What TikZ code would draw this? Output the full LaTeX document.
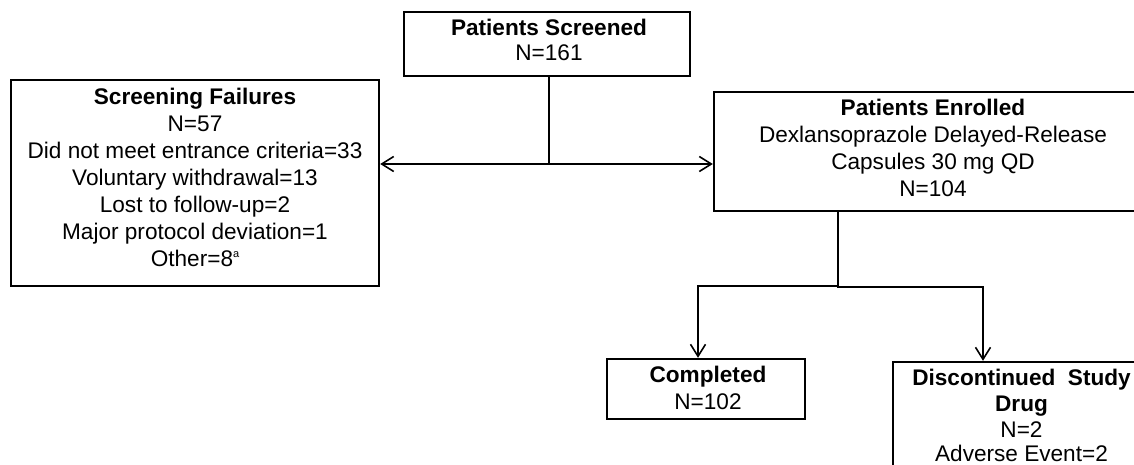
\documentclass[tikz,border=0pt]{standalone}
\usepackage{fontspec}
\setmainfont{Liberation Sans}
\usetikzlibrary{arrows.meta}
\begin{document}
\begin{tikzpicture}[x=1pt,y=-1pt,
  >={Straight Barb[length=12pt,width=15pt,line width=1.6pt]},
  box/.style={draw, line width=2.4pt, inner sep=0pt},
  txt/.style={align=center, inner sep=0pt, anchor=north, font=\fontsize{22.6}{27}\selectfont},
  conn/.style={line width=1.6pt},
  arr/.style={conn, ->}]
\useasboundingbox (0,0) rectangle (1134,465);
\clip (0,0) rectangle (1134,465);
% boxes
\node[box, minimum width=286pt, minimum height=64pt] (scr) at (547,44) {};
\node[box, minimum width=368pt, minimum height=206pt] (fail) at (195,183) {};
\node[box, minimum width=438pt, minimum height=119pt] (enr) at (933,151.5) {};
\node[box, minimum width=198pt, minimum height=60pt] (comp) at (706,389) {};
\node[box, minimum width=257pt, minimum height=128pt] (disc) at (1021.5,426) {};
% texts
\node[txt] (scrT) at (549,16.1) {\strut\textbf{Patients Screened}\\[-2pt]\strut N=161};
\node[txt] (failT) at (195,85.1) {\strut\textbf{Screening Failures}\\
  \strut N=57\\
  \strut Did not meet entrance criteria=33\\
  \strut Voluntary withdrawal=13\\
  \strut Lost to follow-up=2\\
  \strut Major protocol deviation=1\\
  \strut Other=8\raisebox{9pt}{\fontsize{11}{11}\selectfont a}};
\node[txt] (enrT) at (933,96.1) {\strut\textbf{Patients Enrolled}\\
  \strut Dexlansoprazole Delayed-Release\\
  \strut Capsules 30 mg QD\\
  \strut N=104};
\node[txt] (compT) at (708,363.1) {\strut\textbf{Completed}\\ \strut N=102};
\node[txt] (discT) at (1021.5,366.1) {\strut\textbf{Discontinued\ \ Study}\\[-1pt]
  \strut\textbf{Drug}\\[-1pt]
  \strut N=2\\[-2.5pt]
  Adverse Event=2};
% connectors
\coordinate (h) at (549,164);
\coordinate (j) at (838,286);
\coordinate (cj) at (698,286);
\coordinate (dj) at (983,287);
\draw[conn] (scr.south -| h) -- (h);
\draw[conn, <->] (fail.east |- h) -- (enr.west |- h);
\draw[conn] (enr.south -| j) -- (j);
\draw[arr] (j) -- (cj) -- (cj |- comp.north);
\draw[arr] (j) -- (j |- dj) -- (dj) -- (dj |- disc.north);
\end{tikzpicture}
\end{document}
